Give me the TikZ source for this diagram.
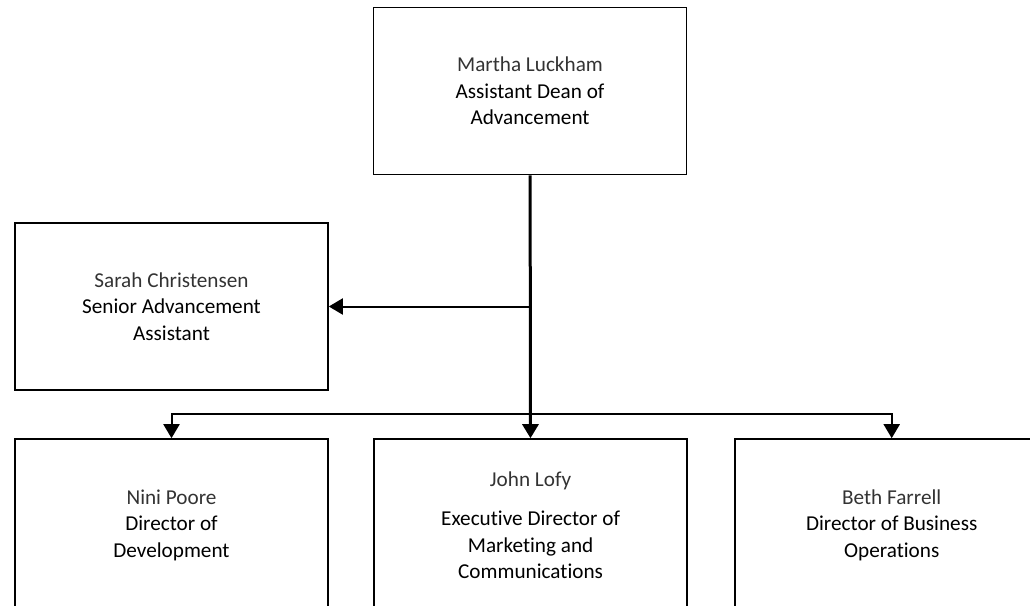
\documentclass[tikz,border=0pt]{standalone}
\usepackage{fontspec}
\setmainfont{Carlito}[Ligatures=NoCommon]
\usetikzlibrary{positioning,arrows.meta}
\tikzset{
  person/.style={draw, line width=1.6pt, minimum width=313pt, minimum height=167pt,
    align=center, inner sep=0pt, font=\fontsize{21.2}{26.5}\selectfont},
  link/.style={line width=2pt, -{Triangle[width=16pt,length=14pt]}},
  trunk/.style={link, line width=3pt},
}
\newcommand{\who}[1]{{\color{black!80}#1}}

\begin{document}
\begin{tikzpicture}[x=1pt,y=-1pt]
	\useasboundingbox (0,0) rectangle (1030,605);
	\clip (0,0) rectangle (1030,605);

	\node[person] (martha) at (530,91) {\who{Martha Luckham}\\Assistant Dean of\\Advancement};
	\node[person] (sarah) at (171.5,306.5) {\who{Sarah Christensen}\\Senior Advancement\\Assistant};

	% bottom row runs past the lower edge
	\node[person, minimum height=172pt] (nini) at (171.5,525) {\who{Nini Poore}\\Director of\\Development};
	\node[person, minimum height=172pt, right=44.5pt of nini] (john) {\who{John Lofy}\\[13pt]Executive Director of\\Marketing and\\Communications};
	\node[person, minimum height=172pt, right=46.5pt of john] (beth) {\who{Beth Farrell}\\Director of Business\\Operations};

	\coordinate (side) at (martha.south |- sarah.east);
	\coordinate (bus) at (530,414);

	\draw[trunk] (martha) -- (john);
	\draw[link] (side) -- (sarah.east);
	\draw[link] (bus) -| (nini.north);
	\draw[link] (bus) -| (beth.north);

\end{tikzpicture}
\end{document}
